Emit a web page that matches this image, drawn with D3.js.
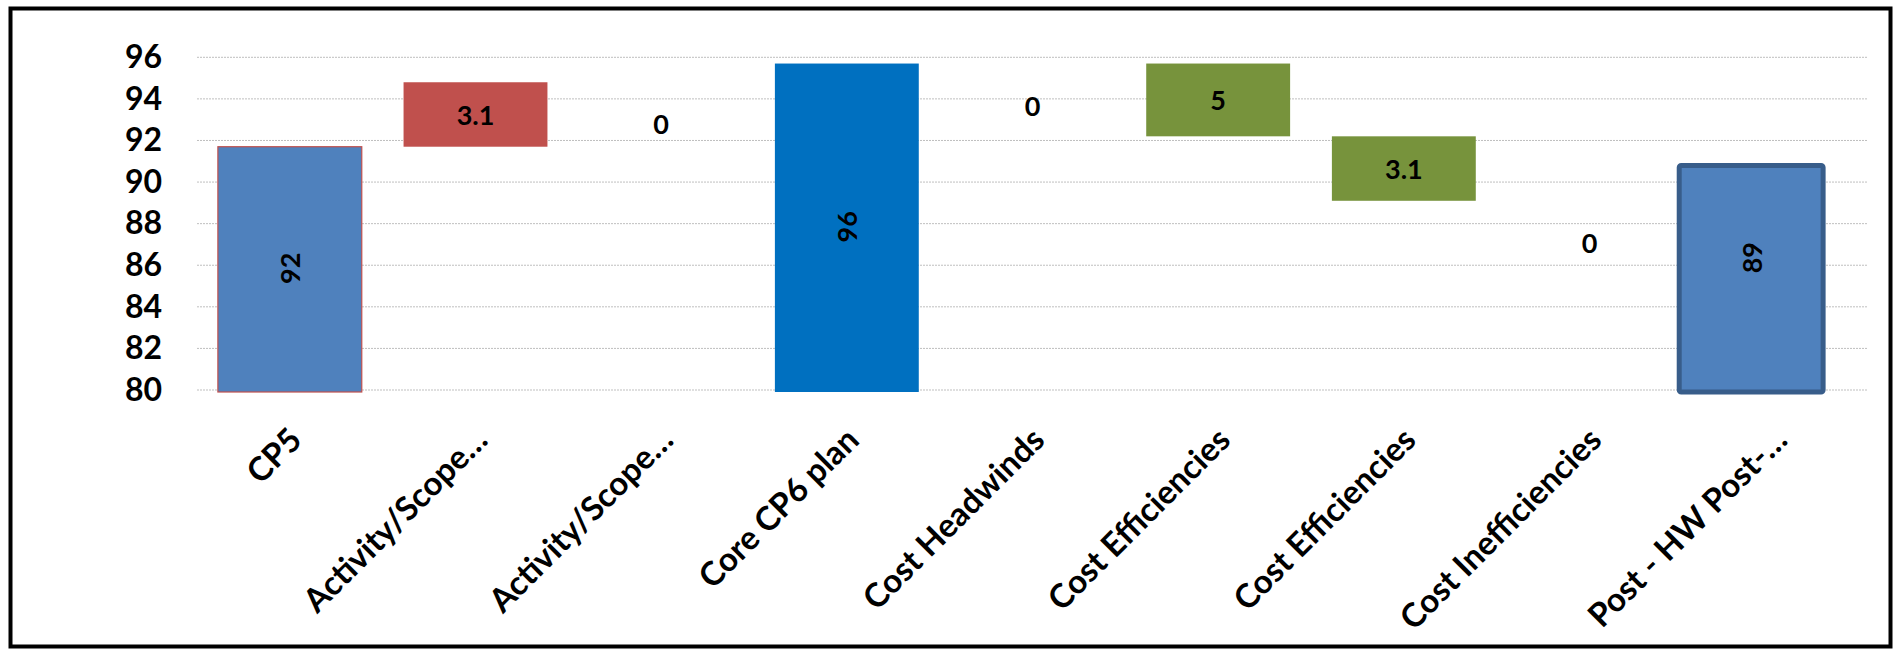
<!DOCTYPE html>
<html>
<head>
<meta charset="utf-8">
<script src="https://cdn.jsdelivr.net/npm/d3@7"></script>
<style>
  body { margin: 0; background: #fff; }
  text { font-family: Lato, "Open Sans", sans-serif; font-weight: bold; }
</style>
</head>
<body>
<div id="chart"></div>
<script>
// waterfall data
var categories = ["CP5", "Activity/Scope…", "Activity/Scope…", "Core CP6 plan", "Cost Headwinds",
                  "Cost Efficiencies", "Cost Efficiencies", "Cost Inefficiencies", "Post - HW Post-…"];
var barLow  = [80, 91.7, 94.8, 80, 95.7, 92.2, 89.1, 89.1, 80];
var barHigh = [91.7, 94.8, 94.8, 95.7, 95.7, 95.7, 92.2, 89.1, 90.8];
var labels  = ["92", "3.1", "0", "96", "0", "5", "3.1", "0", "89"];
var kinds   = ["total", "up", "up", "core", "up", "down", "down", "up", "end"];
var yTicks  = [80, 82, 84, 86, 88, 90, 92, 94, 96];

var svgWidth = 1897;
var svgHeight = 650;

var margin = { top: 57.3, right: 29, bottom: 260, left: 197 };
var plotWidth = svgWidth - margin.left - margin.right;
var plotHeight = svgHeight - margin.top - margin.bottom;

var fills = { total: "#4F81BD", up: "#C0504D", core: "#0070C0", down: "#77933C", end: "#4F81BD" };

var svg = d3.select("#chart")
  .append("svg")
  .attr("width", svgWidth)
  .attr("height", svgHeight);

// outer frame
svg.append("rect")
  .attr("x", 10.5).attr("y", 8.5)
  .attr("width", 1880).attr("height", 638)
  .attr("fill", "none")
  .attr("stroke", "#000")
  .attr("stroke-width", 4);

var g = svg.append("g")
  .attr("transform", `translate(${margin.left}, ${margin.top})`);

var idx = d3.range(categories.length);

var xScale = d3.scaleBand()
  .domain(idx)
  .range([0, plotWidth])
  .paddingInner(0.225)
  .paddingOuter(0.1125);

var yScale = d3.scaleLinear()
  .domain([80, 96])
  .range([plotHeight, 0]);

// gridlines
g.append("g")
  .selectAll("line")
  .data(yTicks)
  .enter()
  .append("line")
  .attr("x1", 0)
  .attr("x2", plotWidth)
  .attr("y1", d => yScale(d))
  .attr("y2", d => yScale(d))
  .attr("stroke", "#BFBFBF")
  .attr("stroke-width", 1)
  .attr("stroke-dasharray", "2,1");

// y axis (labels only)
var yAxis = d3.axisLeft(yScale).tickValues(yTicks).tickSize(0).tickPadding(35);
g.append("g")
  .call(yAxis)
  .call(s => s.select(".domain").remove())
  .selectAll("text")
  .attr("font-size", "32px")
  .attr("fill", "#000")
  .attr("font-family", "Lato")
  .attr("font-weight", "bold");

// the last bar sits a bit left of its slot in the original
function barX(i) {
  return xScale(i) + (kinds[i] === "end" ? -24 : 0);
}

var bars = idx.filter(i => barHigh[i] > barLow[i]);

g.selectAll("rect.bar")
  .data(bars)
  .enter()
  .append("rect")
  .attr("class", "bar")
  .attr("x", i => barX(i))
  .attr("width", xScale.bandwidth())
  .attr("y", i => yScale(barHigh[i]))
  .attr("height", i => yScale(barLow[i]) - yScale(barHigh[i]) + (barLow[i] === 80 ? 2 : 0))
  .attr("fill", i => fills[kinds[i]])
  .attr("stroke", i => kinds[i] === "total" ? "#C0504D" : kinds[i] === "end" ? "#385D8A" : "none")
  .attr("stroke-width", i => kinds[i] === "end" ? 5 : 1.2)
  .attr("rx", i => kinds[i] === "end" ? 2 : 0);

// data labels
idx.forEach(function(i) {
  var cx = barX(i) + xScale.bandwidth() / 2;
  var lo = barLow[i], hi = barHigh[i];
  var vertical = (kinds[i] === "total" || kinds[i] === "core" || kinds[i] === "end");
  var cy = hi > lo ? (yScale(lo) + yScale(hi)) / 2 : yScale(hi - 2.0);
  if (kinds[i] === "end") cy -= 20;
  g.append("text")
    .attr("transform", vertical ? `translate(${cx}, ${cy}) rotate(-90)` : `translate(${cx}, ${cy})`)
    .attr("text-anchor", "middle")
    .attr("dominant-baseline", "central")
    .attr("font-size", "27px")
    .attr("fill", "#000")
    .text(labels[i]);
});

// category labels, slanted
g.append("g")
  .selectAll("text")
  .data(idx)
  .enter()
  .append("text")
  .attr("transform", i => `translate(${xScale(i) + xScale.bandwidth() / 2 + 14}, ${plotHeight + 52}) rotate(-45)`)
  .attr("text-anchor", "end")
  .attr("font-size", "33px")
  .attr("fill", "#000")
  .text(i => categories[i]);
</script>
</body>
</html>
